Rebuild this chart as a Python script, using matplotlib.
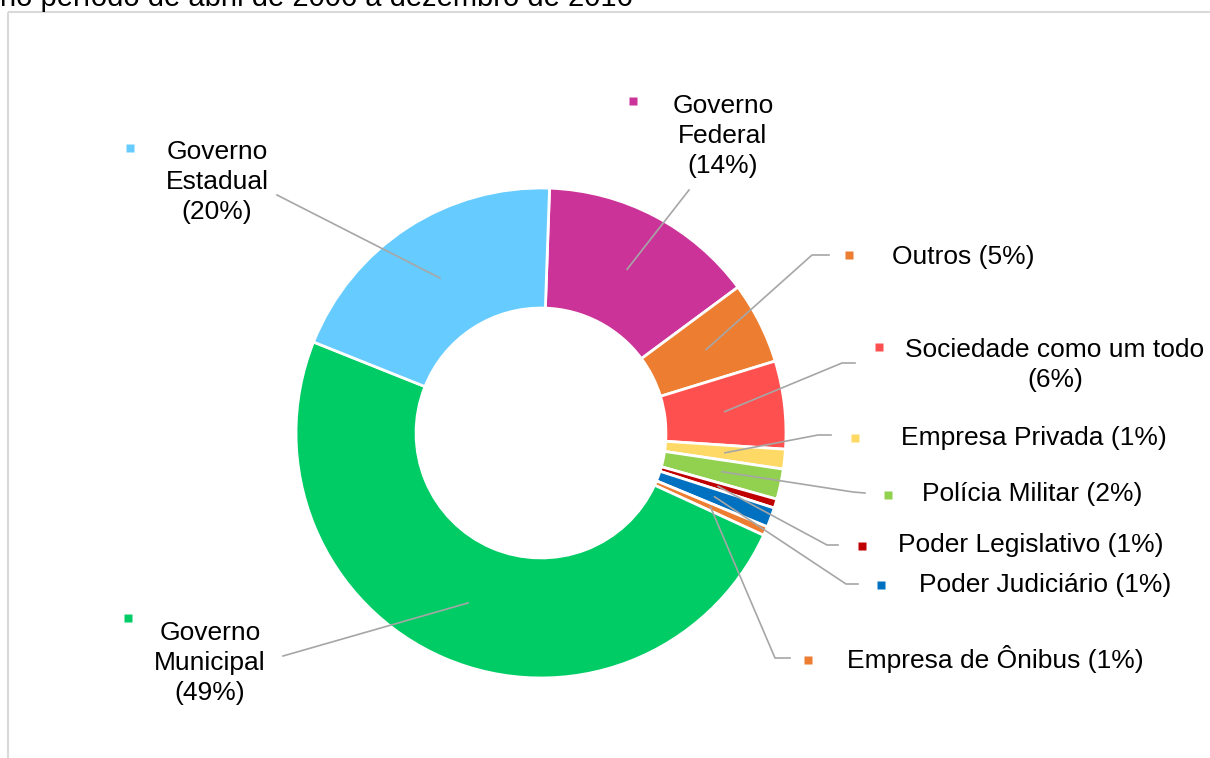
import matplotlib.pyplot as plt
import numpy as np
from matplotlib.patches import Rectangle

# data (clockwise from 12 o'clock)
labels = ['Governo\nFederal\n(14%)', 'Outros (5%)', 'Sociedade como um todo\n(6%)',
          'Empresa Privada (1%)', 'Polícia Militar (2%)', 'Poder Legislativo (1%)',
          'Poder Judiciário (1%)', 'Empresa de Ônibus (1%)',
          'Governo\nMunicipal\n(49%)', 'Governo\nEstadual\n(20%)']
values = [14.3, 5.4, 5.8, 1.3, 2.0, 0.6, 1.3, 0.6, 49.2, 19.5]
colors = ['#CC3399', '#ED7D31', '#FF5050', '#FFD966', '#92D050', '#C00000',
          '#0070C0', '#ED7D31', '#00CC66', '#66CCFF']
title = 'no período de abril de 2006 a dezembro de 2016'

# label layout in pixels: marker (x, y), text (x, y, ha), leader elbow points
markers = [(633, 101), (849, 255), (879, 347), (855, 438), (888, 495),
           (862, 546), (881, 585), (808, 660), (128, 618), (130, 148)]
texts = [(723, 136, 'center'), (892, 257, 'left'), (1055, 365, 'center'),
         (901, 438, 'left'), (922, 494, 'left'), (898, 545, 'left'),
         (919, 585, 'left'), (847, 659, 'left'), (210, 663, 'center'),
         (217, 182, 'center')]
elbows = [[(689, 190)], [(829, 255), (812, 255)], [(855, 363), (842, 363)],
          [(831, 435), (818, 435)], [(865, 493), (853, 492)],
          [(838, 545), (827, 545)], [(858, 584), (846, 584)],
          [(790, 658), (775, 658)], [(283, 656)], [(277, 195)]]

plt.rcParams['font.family'] = ['Liberation Sans', 'DejaVu Sans']
W, H = 1210, 758
fig = plt.figure(figsize=(W / 100, H / 100), dpi=100)

# donut
cx, cy, R = 541, 433, 245
ax = fig.add_axes([(cx - R) / W, (H - cy - R) / H, 2 * R / W, 2 * R / H])
wedges, _ = ax.pie(values, colors=colors, startangle=88, counterclock=False,
                   radius=1, wedgeprops=dict(width=0.49, edgecolor='white', linewidth=2))
ax.set_xlim(-1, 1)
ax.set_ylim(-1, 1)
ax.axis('off')

# overlay in pixel coords for labels / leader lines
ov = fig.add_axes([0, 0, 1, 1])
ov.set_xlim(0, W)
ov.set_ylim(H, 0)
ov.axis('off')
ov.patch.set_alpha(0)

ov.add_patch(Rectangle((8, 12), 1400, 900, fill=False, edgecolor='#D9D9D9', lw=1.5))
ov.text(0, 6, title, ha='left', va='baseline', fontsize=21, color='black')

to_ov = ov.transData.inverted()
rmid = 1 - 0.49 / 2
for w, m, t, e, lab, c in zip(wedges, markers, texts, elbows, labels, colors):
    th = np.deg2rad((w.theta1 + w.theta2) / 2)
    disp = ax.transData.transform((rmid * np.cos(th), rmid * np.sin(th)))
    ax_x, ax_y = to_ov.transform(disp)
    pts = e + [(ax_x, ax_y)]
    ov.plot([p[0] for p in pts], [p[1] for p in pts], color='#A6A6A6', lw=1.2)
    ov.plot(m[0], m[1], marker='s', ms=6, color=c, mec='none')
    ov.text(t[0], t[1], lab, ha=t[2], va='center', fontsize=19,
            multialignment='center', linespacing=1.34, color='black')

fig.savefig('out.png', dpi=100)
